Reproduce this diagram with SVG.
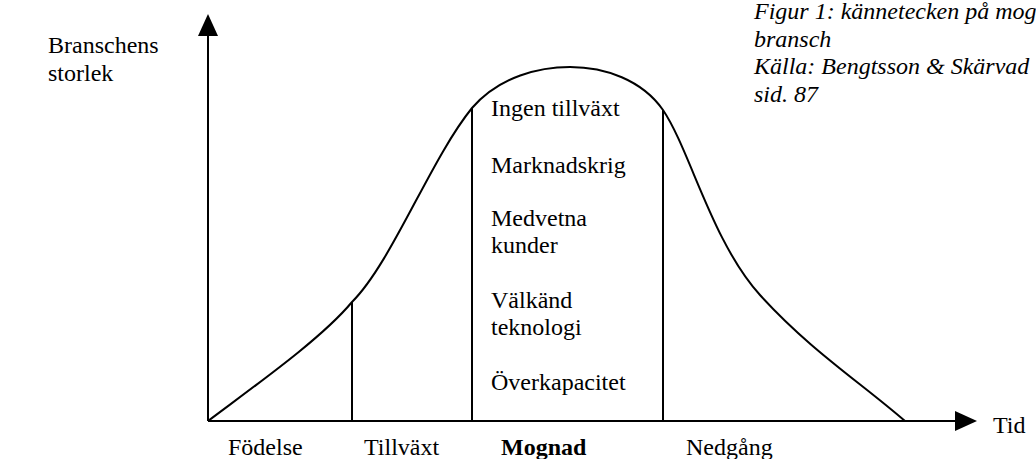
<svg xmlns="http://www.w3.org/2000/svg" width="1036" height="459" viewBox="0 0 1036 459">
<style>
text{font-family:'Liberation Serif','Times New Roman',Times,serif;font-size:24px;fill:#000}
.i{font-style:italic}
.b{font-weight:bold}
.ln{stroke:#000;stroke-width:2;fill:none}
</style>
<rect width="1036" height="459" fill="#fff"/>
<g id="axes">
<line class="ln" x1="208" y1="421" x2="208" y2="36"/>
<path d="M198,36 L208,14 L218,36 Z" fill="#000"/>
<line class="ln" x1="208" y1="421" x2="956" y2="421"/>
<path d="M955,411 L977,421 L955,431 Z" fill="#000"/>
</g>
<g id="connectors">
<path class="ln" d="M208,421 C260,382 322,338 352,302 C392,262 430,160 472,108 C500,76 540,67 570,67 C605,67 642,80 663,110 C690,150 712,242 760,295 C810,350 860,382 905,421"/>
<line class="ln" x1="352" y1="302" x2="352" y2="421"/>
<line class="ln" x1="472" y1="108" x2="472" y2="421"/>
<line class="ln" x1="663" y1="110" x2="663" y2="421"/>
</g>
<g id="ylabel">
<text x="48" y="53">Branschens</text>
<text x="48" y="81">storlek</text>
</g>
<g id="caption">
<text class="i" x="754" y="19">Figur 1: kännetecken på mogen</text>
<text class="i" x="754" y="47">bransch</text>
<text class="i" x="754" y="74">Källa: Bengtsson &amp; Skärvad</text>
<text class="i" x="754" y="102">sid. 87</text>
</g>
<g id="features">
<text x="491" y="116">Ingen tillväxt</text>
<text x="491" y="173">Marknadskrig</text>
<text x="491" y="226">Medvetna</text>
<text x="491" y="253">kunder</text>
<text x="491" y="308">Välkänd</text>
<text x="491" y="335">teknologi</text>
<text x="491" y="390">Överkapacitet</text>
</g>
<g id="phases">
<text x="228" y="455">Födelse</text>
<text x="364" y="455">Tillväxt</text>
<text class="b" x="501" y="455">Mognad</text>
<text x="686" y="455">Nedgång</text>
<text x="993" y="433">Tid</text>
</g>
</svg>
